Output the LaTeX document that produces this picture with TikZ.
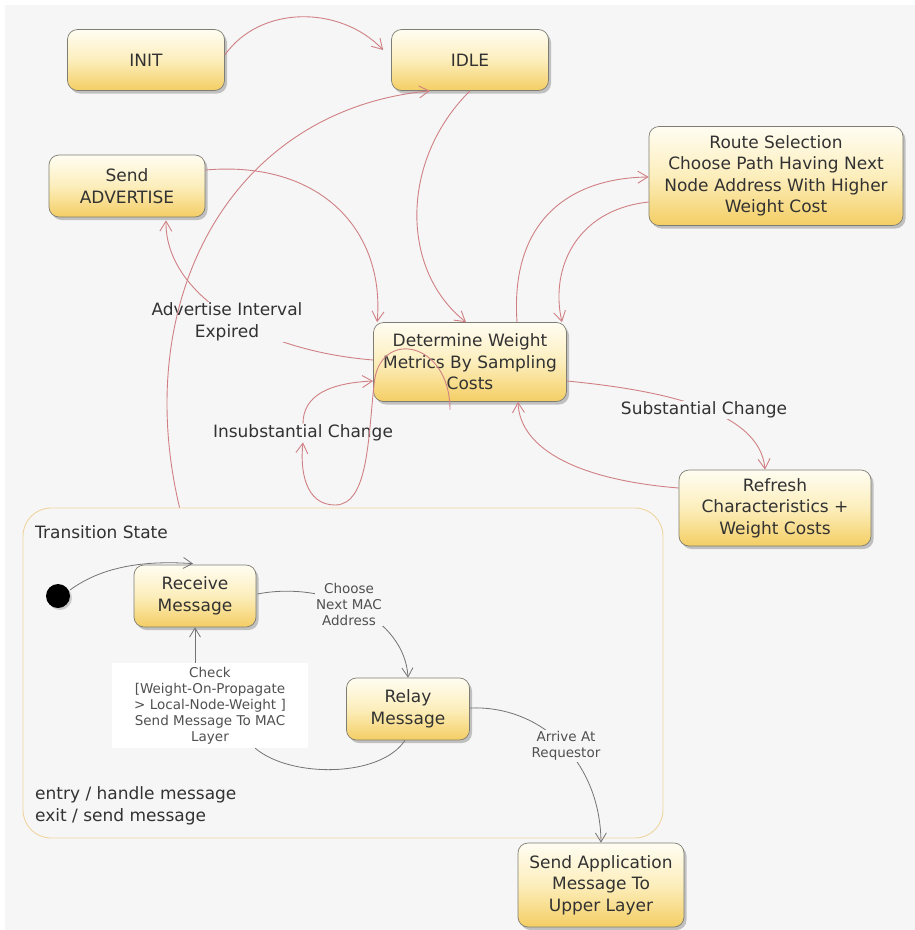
\documentclass[tikz,border=0pt]{standalone}
\usepackage{fontspec}
\setmainfont{DejaVu Sans}
\usetikzlibrary{arrows.meta,shadows,calc}

\definecolor{canvas}{RGB}{246,246,246}
\definecolor{txt}{RGB}{50,50,50}
\definecolor{softtxt}{RGB}{80,80,80}
\definecolor{stateline}{RGB}{125,125,115}
\definecolor{shadetop}{RGB}{255,253,242}
\definecolor{shademid}{RGB}{252,238,188}
\definecolor{shadebot}{RGB}{244,206,100}
\definecolor{edgered}{RGB}{208,128,132}
\definecolor{edgegray}{RGB}{115,115,115}
\definecolor{tsline}{RGB}{240,212,160}

\newcommand\bigtxt{\fontsize{17}{21.5}\selectfont}
\newcommand\smalltxt{\fontsize{13.5}{16}\selectfont}

\begin{document}
\begin{tikzpicture}[x=1pt,y=-1pt,
  state/.style={draw=stateline, line width=0.7pt, rounded corners=10pt,
    top color=shadetop, bottom color=shadebot, middle color=shademid,
    align=center, inner sep=2pt, text=txt, font=\bigtxt,
    drop shadow={shadow xshift=2.5pt, shadow yshift=-3pt, opacity=0.45}},
  redflow/.style={draw=edgered, line width=0.9pt,
    -{Straight Barb[length=10pt,width=12pt]}},
  grayflow/.style={draw=edgegray, line width=0.8pt,
    -{Straight Barb[length=9pt,width=11pt]}},
  grayline/.style={draw=edgegray, line width=0.8pt},
  biglabel/.style={font=\bigtxt, text=txt, fill=canvas, inner sep=1pt, align=center},
  smalllabel/.style={font=\smalltxt, text=softtxt, fill=canvas, inner sep=1pt, align=center},
]
\useasboundingbox (0,0) rectangle (915,930);
\fill[white] (0,0) rectangle (915,930);
\fill[canvas] (5,5) rectangle (915,930);

% composite state
\node[draw=tsline, line width=0.9pt, rounded corners=28pt, minimum width=640pt,
      minimum height=330pt, inner sep=0pt] (TS) at (343,673) {};
\node[anchor=west, inner sep=0pt, font=\bigtxt, text=txt] (tsname) at (35,532) {Transition State};
\node[anchor=west, inner sep=0pt, align=left, font=\bigtxt, text=txt] (tsacts) at (35,806)
  {entry / handle message\\exit / send message};

% states
\node[state, minimum width=157pt, minimum height=61pt] (INIT) at (146,60) {INIT};
\node[state, minimum width=157pt, minimum height=61pt] (IDLE) at (470,60) {IDLE};
\node[state, minimum width=156pt, minimum height=62pt] (SendAdv) at (127,186) {Send\\ADVERTISE};
\node[state, minimum width=254pt, minimum height=99pt] (Route) at (776,176)
  {Route Selection\\Choose Path Having Next\\Node Address With Higher\\Weight Cost};
\node[state, minimum width=193pt, minimum height=79pt] (Det) at (470,362)
  {Determine Weight\\Metrics By Sampling\\Costs};
\node[state, minimum width=192pt, minimum height=76pt] (Refresh) at (775,508)
  {Refresh\\Characteristics +\\Weight Costs};
\node[state, minimum width=122pt, minimum height=62pt] (Recv) at (195,596) {Receive\\Message};
\node[state, minimum width=123pt, minimum height=62pt] (Relay) at (408,709) {Relay\\Message};
\node[state, minimum width=166pt, minimum height=84pt] (SendApp) at (601,885)
  {Send Application\\Message To\\Upper Layer};
\node[circle, fill=black, minimum size=24pt, inner sep=0pt,
      drop shadow={shadow xshift=2pt, shadow yshift=-2pt, opacity=0.35}] (Dot) at (58,596) {};

% top-level transitions
\draw[redflow] ($(INIT.east)+(0,-5)$) .. controls (260,5) and (340,5) .. ($(IDLE.west)+(-8,-10)$);
\draw[redflow] (IDLE.south) .. controls (400,160) and (400,270) .. ($(Det.north)+(-4,0)$);
\draw[redflow] ($(SendAdv.east)+(0,-16)$) .. controls (320,160) and (385,230) .. ($(Det.north west)+(4,0)$);
\draw[redflow] ($(Det.west)+(0,-2)$) .. controls (250,350) and (165,290) .. ($(SendAdv.south)+(39,3)$);
\node[biglabel] (lblAdv) at (227,322) {Advertise Interval\\Expired};
\draw[redflow] ($(TS.north west)+(157,0)$) .. controls (130,300) and (230,110) .. ($(IDLE.south)+(-40,0)$);
\draw[redflow] ($(Det.north)+(47,0)$) .. controls (510,220) and (570,178) .. ($(Route.west)+(0,1)$);
\draw[redflow] ($(Route.west)+(0,26)$) .. controls (575,210) and (550,270) .. ($(Det.north)+(92,0)$);
\draw[redflow] ($(Det.east)+(0,19)$) .. controls (660,390) and (760,410) .. ($(Refresh.north)+(-10,0)$);
\node[biglabel] (lblSub) at (704,410) {Substantial Change};
\draw[redflow] ($(Refresh.west)+(0,-20)$) .. controls (580,480) and (520,450) .. ($(Det.south)+(48,0)$);

% self transition of the sampling state
\node[font=\bigtxt, text=txt, inner sep=1pt] (lblIns) at (303,433) {Insubstantial Change};
\draw[redflow] ($(Det.south)+(-20,8)$) .. controls (450,340) and (378,328) .. (374,385)
  .. controls (368,440) and (368,505) .. (335,505)
  .. controls (305,505) and (300,470) .. (lblIns.south);
\draw[redflow] (lblIns.north) .. controls (303,395) and (330,383) .. ($(Det.west)+(0,19)$);

% inner transitions
\draw[grayflow] ($(Dot.center)+(12,-6)$) .. controls (100,568) and (140,560) .. ($(Recv.north)+(-2,-1)$);
\draw[grayflow] ($(Recv.east)+(1,-2)$) .. controls (330,580) and (405,620) .. (Relay.north);
\node[smalllabel] (lblMac) at (349,604) {Choose\\Next MAC\\Address};
\draw[grayflow] ($(Relay.east)+(0,-1)$) .. controls (540,705) and (600,760) .. (SendApp.north);
\node[smalllabel] (lblReq) at (566,746) {Arrive At\\Requestor};
\node[fill=white, minimum width=196pt, minimum height=85pt, inner sep=0pt,
      font=\smalltxt, text=softtxt, align=center] (Chk) at (210,705.5)
  {Check\\{[}Weight-On-Propagate\\> Local-Node-Weight ]\\Send Message To MAC\\Layer};
\draw[grayline] ($(Relay.south)+(-3,0)$) .. controls (380,778) and (290,778) .. ($(Chk.south east)+(-53,0)$);
\draw[grayflow] (Chk.north -| Recv.south) -- (Recv.south);
\end{tikzpicture}
\end{document}
